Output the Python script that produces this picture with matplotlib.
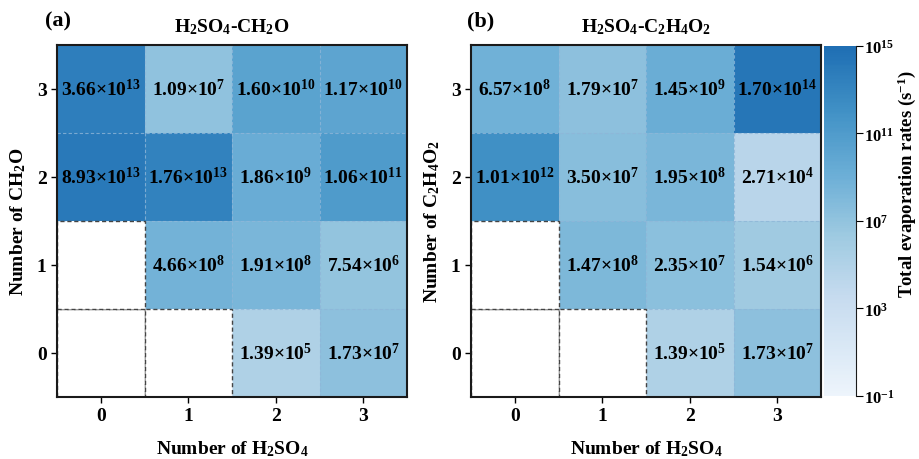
import numpy as np
import matplotlib
matplotlib.use('Agg')
import matplotlib.pyplot as plt
from matplotlib.colors import LogNorm, LinearSegmentedColormap
from matplotlib.patches import Rectangle

# fonts: Times-like bold everywhere
plt.rcParams['font.family'] = ['Liberation Serif', 'DejaVu Serif']
plt.rcParams['font.weight'] = 'bold'
plt.rcParams['mathtext.fontset'] = 'custom'
plt.rcParams['mathtext.rm'] = 'Liberation Serif:bold'
plt.rcParams['mathtext.it'] = 'Liberation Serif:bold'
plt.rcParams['mathtext.bf'] = 'Liberation Serif:bold'
plt.rcParams['mathtext.default'] = 'rm'

# data (rows = y 0..3, columns = x 0..3), nan = no cluster
n_acid = [0, 1, 2, 3]
n_other = [0, 1, 2, 3]
rates_ch2o = [
    [np.nan, np.nan, 1.39e5, 1.73e7],
    [np.nan, 4.66e8, 1.91e8, 7.54e6],
    [8.93e13, 1.76e13, 1.86e9, 1.06e11],
    [3.66e13, 1.09e7, 1.60e10, 1.17e10],
]
rates_c2h4o2 = [
    [np.nan, np.nan, 1.39e5, 1.73e7],
    [np.nan, 1.47e8, 2.35e7, 1.54e6],
    [1.01e12, 3.50e7, 1.95e8, 2.71e4],
    [6.57e8, 1.79e7, 1.45e9, 1.70e14],
]
titles = [r'H$_2$SO$_4$-CH$_2$O', r'H$_2$SO$_4$-C$_2$H$_4$O$_2$']
ylabels = [r'Number of CH$_2$O', r'Number of C$_2$H$_4$O$_2$']
panel_tags = ['(a)', '(b)']
cbar_ticks = [1e-1, 1e3, 1e7, 1e11, 1e15]

base = plt.get_cmap('Blues')
cmap = LinearSegmentedColormap.from_list('blues_cut', base(np.linspace(0.05, 0.76, 256)))
norm = LogNorm(vmin=1e-1, vmax=1e15)


def sci_label(v):
    e = int(np.floor(np.log10(v)))
    m = v / 10 ** e
    return f'{m:.2f}×10$^{{{e}}}$'


fig = plt.figure(figsize=(9.19, 4.6), dpi=100)
ax_pos = [[0.062, 0.135, 0.381, 0.765], [0.5125, 0.135, 0.381, 0.765]]
tag_x = [-0.034, -0.011]

for k, data in enumerate([rates_ch2o, rates_c2h4o2]):
    arr = np.array(data)
    ax = fig.add_axes(ax_pos[k])
    im = ax.imshow(np.ma.masked_invalid(arr), cmap=cmap, norm=norm, origin='lower',
                   aspect='auto', extent=(-0.5, 3.5, -0.5, 3.5), interpolation='nearest')
    # faint dashed cell borders
    for g in [0.5, 1.5, 2.5]:
        ax.axhline(g, color='#8fb6d8', lw=0.8, ls=(0, (3, 2)), alpha=0.8)
        ax.axvline(g, color='#8fb6d8', lw=0.8, ls=(0, (3, 2)), alpha=0.8)
    for iy in range(arr.shape[0]):
        for ix in range(arr.shape[1]):
            v = arr[iy, ix]
            if np.isnan(v):
                ax.add_patch(Rectangle((ix - 0.5, iy - 0.5), 1, 1, facecolor='white',
                                       edgecolor='#444444', ls=(0, (3, 2)), lw=1.0, zorder=3))
            else:
                ax.text(ix, iy, sci_label(v), ha='center', va='center',
                        fontsize=14, fontweight='bold', color='black', zorder=4)
    ax.set_xlim(-0.5, 3.5)
    ax.set_ylim(-0.5, 3.5)
    ax.set_xticks(n_acid)
    ax.set_yticks(n_other)
    ax.tick_params(labelsize=14, length=4, width=1.0, direction='out')
    for lab in ax.get_xticklabels() + ax.get_yticklabels():
        lab.set_fontweight('bold')
    for s in ax.spines.values():
        s.set_linewidth(1.5)
        s.set_color('#1a1a1a')
        s.set_zorder(5)
    ax.set_xlabel(r'Number of H$_2$SO$_4$', fontsize=14, fontweight='bold', labelpad=10)
    ax.set_ylabel(ylabels[k], fontsize=14, fontweight='bold', labelpad=6)
    ax.set_title(titles[k], fontsize=14, fontweight='bold', pad=10)
    ax.text(tag_x[k], 1.04, panel_tags[k], transform=ax.transAxes,
            fontsize=16, fontweight='bold', ha='left', va='bottom')

cax = fig.add_axes([0.897, 0.137, 0.034, 0.761])
cb = fig.colorbar(im, cax=cax, ticks=cbar_ticks)
cb.outline.set_visible(False)
cax.plot([1, 1], [0, 1], transform=cax.transAxes, color='#1a1a1a', lw=0.8, clip_on=False)
cax.minorticks_off()
cb.set_ticks(cbar_ticks)
cb.set_ticklabels([f'10$^{{{int(np.log10(t))}}}$' for t in cbar_ticks])
cax.tick_params(labelsize=12, length=5, width=0.8, pad=1)
fig.text(0.987, 0.6, r'Total evaporation rates (s$^{-1}$)', rotation=90,
         ha='center', va='center', fontsize=13.5, fontweight='bold')

fig.savefig('out.png', dpi=100)
